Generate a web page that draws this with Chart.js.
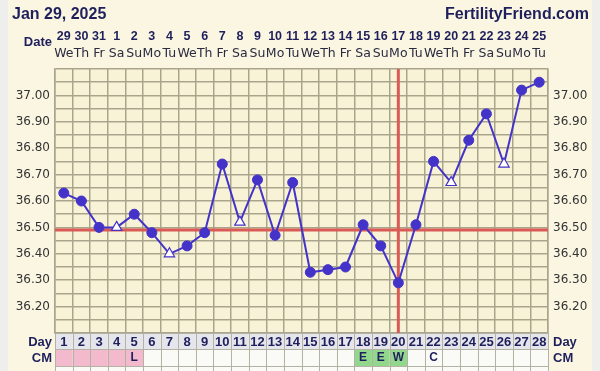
<!DOCTYPE html>
<html><head><meta charset="utf-8">
<script src="https://cdn.jsdelivr.net/npm/chart.js@4"></script>
<style>html,body{margin:0;padding:0;background:#faf6e2;}canvas{display:block}</style>
</head><body>
<canvas id="c" width="600" height="371"></canvas>
<script>
const chartTitle = 'Jan 29, 2025';
const siteName = 'FertilityFriend.com';
const cycleDays = ['1','2','3','4','5','6','7','8','9','10','11','12','13','14','15','16','17','18','19','20','21','22','23','24','25','26','27','28'];
const dates = ['29','30','31','1','2','3','4','5','6','7','8','9','10','11','12','13','14','15','16','17','18','19','20','21','22','23','24','25'];
const weekdays = ['We','Th','Fr','Sa','Su','Mo','Tu','We','Th','Fr','Sa','Su','Mo','Tu','We','Th','Fr','Sa','Su','Mo','Tu','We','Th','Fr','Sa','Su','Mo','Tu'];
const temps = [36.63,36.60,36.50,36.50,36.55,36.48,36.40,36.43,36.48,36.74,36.52,36.68,36.47,36.67,36.33,36.34,36.35,36.51,36.43,36.29,36.51,36.75,36.67,36.83,36.93,36.74,37.02,37.05];
const openMarker = [false,false,false,true,false,false,true,false,false,false,true,false,false,false,false,false,false,false,false,false,false,false,true,false,false,true,false,false];
const cmCodes = ['','','','','L','','','','','','','','','','','','','E','E','W','','C','','','','','',''];
const cmShade = ['P','P','P','P','P','','','','','','','','','','','','','G','G','G','','','','','','','',''];
const yTickLabels = ['37.00','36.90','36.80','36.70','36.60','36.50','36.40','36.30','36.20'];
const coverline = 36.49;
const ovulationDay = '20';
const yMin = 36.10, yMax = 37.10, yStep = 0.05;

const NAVY = '#1f1f5c';
const LINE = '#4433c8';
const RED = '#db5a55';
const GRID = '#a9a58d';

const tickCb = (v) => {
  const s = Number(v).toFixed(2);
  return yTickLabels.includes(s) ? s : '';
};

const fcPlugin = {
  id: 'fc',
  beforeDraw(chart) {
    const {ctx, chartArea: a} = chart;
    ctx.save();
    ctx.fillStyle = '#faf6e2';
    ctx.fillRect(0, 0, chart.width, chart.height);
    ctx.fillStyle = '#eeeeec';
    ctx.fillRect(0, 0, 8, chart.height);
    ctx.fillRect(592, 0, 8, chart.height);
    ctx.fillStyle = '#f8f2d6';
    ctx.fillRect(a.left, a.top, a.right - a.left, a.bottom - a.top);
    ctx.restore();
  },
  beforeDatasetsDraw(chart) {
    const {ctx, chartArea: a, scales} = chart;
    ctx.save();
    ctx.strokeStyle = RED;
    ctx.lineWidth = 3;
    const yc = scales.y.getPixelForValue(coverline);
    ctx.beginPath(); ctx.moveTo(a.left, yc); ctx.lineTo(a.right, yc); ctx.stroke();
    const xo = scales.x.getPixelForValue(cycleDays.indexOf(ovulationDay));
    ctx.beginPath(); ctx.moveTo(xo, a.top); ctx.lineTo(xo, a.bottom); ctx.stroke();
    ctx.restore();
  },
  afterDraw(chart) {
    const {ctx, chartArea: a, scales} = chart;
    const x = scales.x;
    const cw = (a.right - a.left) / cycleDays.length;
    ctx.save();
    ctx.textBaseline = 'middle';
    // header
    ctx.fillStyle = NAVY;
    ctx.font = 'bold 16px "Liberation Sans", sans-serif';
    ctx.textAlign = 'left';
    ctx.fillText(chartTitle, 12, 15);
    ctx.textAlign = 'right';
    ctx.fillText(siteName, 589, 15);
    ctx.font = 'bold 13px "Liberation Sans", sans-serif';
    ctx.fillText('Date', 52, 42);
    ctx.textAlign = 'center';
    ctx.font = 'bold 12.5px "Liberation Sans", sans-serif';
    dates.forEach((d, i) => ctx.fillText(d, x.getPixelForValue(i), 37));
    ctx.fillStyle = '#2a2a40';
    ctx.font = '12.5px "DejaVu Sans", sans-serif';
    weekdays.forEach((d, i) => ctx.fillText(d, x.getPixelForValue(i), 54));
    // table rows
    const rows = [{top: a.bottom, h: 16}, {top: a.bottom + 16, h: 17}, {top: a.bottom + 33, h: 17}];
    cycleDays.forEach((d, i) => {
      const l = a.left + i * cw;
      ctx.fillStyle = '#e5e5ec';
      ctx.fillRect(l, rows[0].top, cw, rows[0].h);
      ctx.fillStyle = cmShade[i] === 'P' ? '#f3bace' : cmShade[i] === 'G' ? '#92d88c' : '#fafaf6';
      ctx.fillRect(l, rows[1].top, cw, rows[1].h);
      ctx.fillStyle = '#fafaf6';
      ctx.fillRect(l, rows[2].top, cw, rows[2].h);
    });
    ctx.strokeStyle = '#b4b2a4';
    ctx.lineWidth = 1;
    for (let i = 0; i <= cycleDays.length; i++) {
      const l = Math.round(a.left + i * cw) + 0.5;
      ctx.beginPath(); ctx.moveTo(l, rows[0].top); ctx.lineTo(l, chart.height); ctx.stroke();
    }
    rows.forEach(r => {
      ctx.beginPath(); ctx.moveTo(a.left, r.top + 0.5); ctx.lineTo(a.right, r.top + 0.5); ctx.stroke();
    });
    ctx.fillStyle = NAVY;
    ctx.textAlign = 'center';
    ctx.font = 'bold 13px "Liberation Sans", sans-serif';
    cycleDays.forEach((d, i) => ctx.fillText(d, x.getPixelForValue(i), rows[0].top + 9));
    ctx.font = 'bold 12px "Liberation Sans", sans-serif';
    cmCodes.forEach((c, i) => { if (c) ctx.fillText(c, x.getPixelForValue(i), rows[1].top + 9); });
    ctx.font = 'bold 13px "Liberation Sans", sans-serif';
    ctx.textAlign = 'right';
    ctx.fillText('Day', 52, rows[0].top + 9);
    ctx.fillText('CM', 52, rows[1].top + 9);
    ctx.textAlign = 'left';
    ctx.fillText('Day', 553, rows[0].top + 9);
    ctx.fillText('CM', 553, rows[1].top + 9);
    ctx.restore();
  }
};

new Chart(document.getElementById('c'), {
  type: 'line',
  data: {
    labels: cycleDays,
    datasets: [{
      data: temps,
      borderColor: LINE,
      borderWidth: 2,
      tension: 0,
      pointStyle: openMarker.map(o => o ? 'triangle' : 'circle'),
      pointRadius: openMarker.map(o => o ? 6 : 5),
      pointBackgroundColor: openMarker.map(o => o ? '#ffffff' : LINE),
      pointBorderColor: LINE,
      pointBorderWidth: openMarker.map(o => o ? 1.2 : 1)
    }]
  },
  options: {
    responsive: false,
    devicePixelRatio: 1,
    animation: false,
    events: [],
    layout: {padding: {top: 69, bottom: 38, left: 0, right: 0}},
    plugins: {legend: {display: false}, tooltip: {enabled: false}},
    scales: {
      x: {
        type: 'category',
        offset: true,
        grid: {offset: true, color: GRID, lineWidth: 1.5, drawTicks: false},
        border: {color: GRID, width: 1.5},
        ticks: {display: false}
      },
      y: {
        position: 'left',
        min: yMin, max: yMax,
        afterFit: s => { s.width = 55; },
        grid: {color: GRID, lineWidth: 1.5, drawTicks: false},
        border: {color: GRID, width: 1.5},
        ticks: {stepSize: yStep, autoSkip: false, padding: 5, color: '#333333', font: {family: 'DejaVu Sans', size: 12}, callback: tickCb}
      },
      y2: {
        position: 'right',
        min: yMin, max: yMax,
        afterFit: s => { s.width = 52; },
        grid: {display: false, drawTicks: false},
        border: {color: GRID, width: 1.5},
        ticks: {stepSize: yStep, autoSkip: false, padding: 5, color: '#333333', font: {family: 'DejaVu Sans', size: 12}, callback: tickCb}
      }
    }
  },
  plugins: [fcPlugin]
});
</script>
</body></html>
